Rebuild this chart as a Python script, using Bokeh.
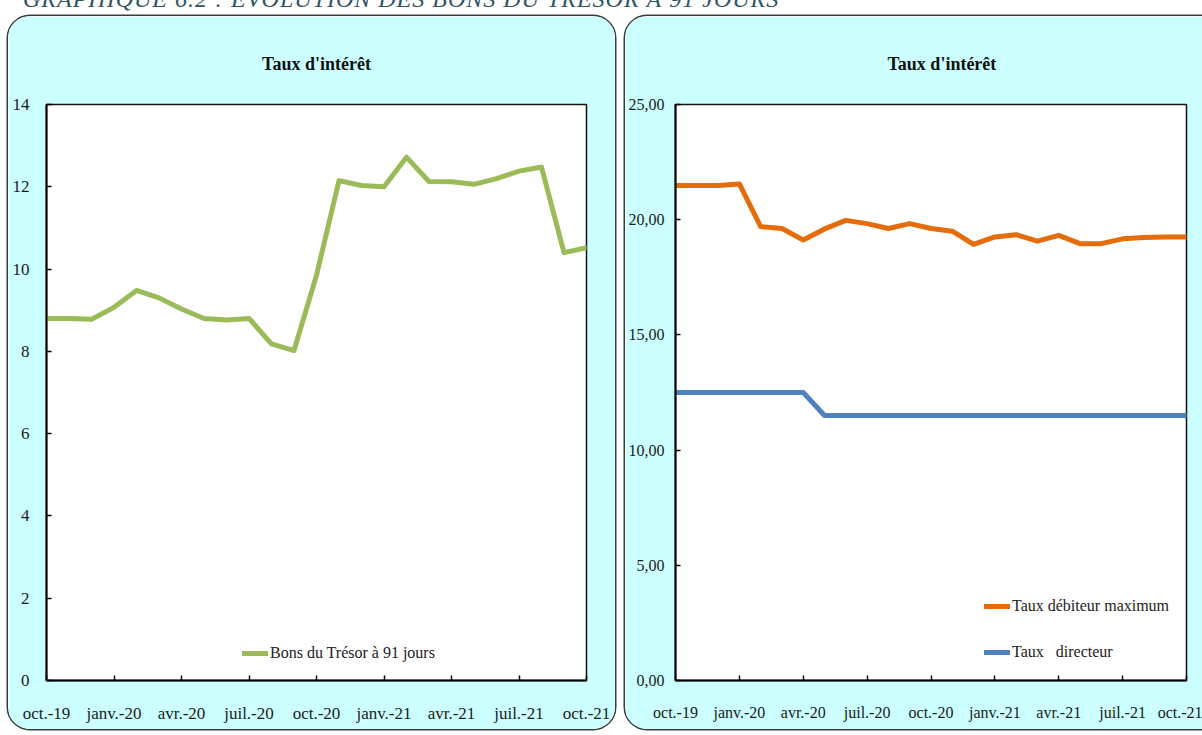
from bokeh.plotting import figure
from bokeh.models import FixedTicker, Legend, LegendItem, Div, Spacer
from bokeh.layouts import row, column
from bokeh.embed import file_html
from bokeh.resources import INLINE

# ---- data -------------------------------------------------------------
# month index: 0 = oct.-19 ... 24 = oct.-21
mois = [0, 1, 2, 3, 4, 5, 6, 7, 8, 9, 10, 11, 12,
        13, 14, 15, 16, 17, 18, 19, 20, 21, 22, 23, 24]

bons_tresor_91j = [8.80, 8.80, 8.78, 9.07, 9.48, 9.30, 9.03, 8.80, 8.76, 8.80, 8.18, 8.02, 9.85,
                   12.15, 12.03, 12.00, 12.72, 12.13, 12.12, 12.06, 12.20, 12.38, 12.48, 10.40, 10.52]

taux_debiteur_max = [21.48, 21.48, 21.48, 21.55, 19.70, 19.62, 19.12, 19.60, 19.97, 19.83, 19.62, 19.83, 19.62,
                     19.50, 18.93, 19.25, 19.35, 19.07, 19.32, 18.96, 18.96, 19.17, 19.23, 19.25, 19.25]

taux_directeur = [12.50, 12.50, 12.50, 12.50, 12.50, 12.50, 12.50, 11.50, 11.50, 11.50, 11.50, 11.50, 11.50,
                  11.50, 11.50, 11.50, 11.50, 11.50, 11.50, 11.50, 11.50, 11.50, 11.50, 11.50, 11.50]

x_ticks = [0, 3, 6, 9, 12, 15, 18, 21, 24]
x_tick_labels = ["oct.-19", "janv.-20", "avr.-20", "juil.-20", "oct.-20",
                 "janv.-21", "avr.-21", "juil.-21", "oct.-21"]

y1_ticks = [0, 2, 4, 6, 8, 10, 12, 14]
y2_ticks = [0, 5, 10, 15, 20, 25]
y2_tick_labels = ["0,00", "5,00", "10,00", "15,00", "20,00", "25,00"]

titre = "Taux d'intérêt"
entete = "GRAPHIQUE 6.2 :  ÉVOLUTION DES BONS DU TRÉSOR À 91 JOURS"

# ---- style --------------------------------------------------------------
FONT = "Liberation Serif"
PANEL = "#CCFFFF"
left_styles = {"border-radius": "22px", "overflow": "hidden",
               "box-shadow": "0 0 0 1.5px #3a3a3a"}
right_styles = {"border-radius": "22px 0 0 22px", "overflow": "hidden",
                "box-shadow": "0 0 0 1.5px #3a3a3a"}


def style_fig(p, ylab_standoff):
    p.xgrid.visible = False
    p.ygrid.visible = False
    p.outline_line_color = "#111111"
    p.outline_line_width = 1.5
    p.title.text = titre
    p.title.align = "center"
    p.title.text_font = FONT
    p.title.text_font_size = "18px"
    p.title.text_font_style = "bold"
    p.title.text_color = "#111111"
    p.title.standoff = 62
    for ax in (p.xaxis[0], p.yaxis[0]):
        ax.axis_line_color = "black"
        ax.axis_line_width = 2
        ax.major_tick_in = 5
        ax.major_tick_out = 0
        ax.major_tick_line_color = "black"
        ax.major_tick_line_width = 1.5
        ax.minor_tick_line_color = None
        ax.major_label_text_font = FONT
        ax.major_label_text_font_size = "17px"
        ax.major_label_text_color = "#1a1a1a"
    p.xaxis[0].ticker = FixedTicker(ticks=x_ticks)
    p.xaxis[0].major_label_overrides = {t: l for t, l in zip(x_ticks, x_tick_labels)}
    p.xaxis[0].major_label_standoff = 23
    p.yaxis[0].major_label_standoff = ylab_standoff


# ---- left panel ----------------------------------------------------------
p1 = figure(width=607, height=713, output_backend="svg", toolbar_location=None,
            x_range=(0, 24), y_range=(0, 14),
            min_border_left=38, min_border_right=29, min_border_top=88, min_border_bottom=49,
            border_fill_color=PANEL, background_fill_color="white", styles=left_styles)
style_fig(p1, 17)
p1.yaxis[0].ticker = FixedTicker(ticks=y1_ticks)

r1 = p1.line(mois, bons_tresor_91j, line_width=5, line_color="#9BBB59",
             line_join="round", line_cap="round")
leg1 = Legend(items=[LegendItem(label="Bons du Trésor à 91 jours", renderers=[r1])],
              location=(196, 17), padding=0, margin=0, glyph_width=26, glyph_height=20,
              label_standoff=2, label_height=20, label_text_font=FONT,
              label_text_font_size="16px", label_text_color="#222222",
              background_fill_alpha=0, border_line_alpha=0)
p1.add_layout(leg1)

# ---- right panel ---------------------------------------------------------
p2 = figure(width=577, height=713, output_backend="svg", toolbar_location=None,
            x_range=(0, 24), y_range=(0, 25),
            min_border_left=48, min_border_right=16, min_border_top=88, min_border_bottom=49,
            border_fill_color=PANEL, background_fill_color="white", styles=right_styles)
style_fig(p2, 11)
p2.yaxis[0].major_label_text_font_size = "16px"
p2.xaxis[0].major_label_text_font_size = "16px"
p2.title.align = "left"
p2.title.offset = 212
p2.yaxis[0].ticker = FixedTicker(ticks=y2_ticks)
p2.yaxis[0].major_label_overrides = {t: l for t, l in zip(y2_ticks, y2_tick_labels)}

r2 = p2.line(mois, taux_debiteur_max, line_width=5, line_color="#E46C0A",
             line_join="round", line_cap="round")
r3 = p2.line(mois, taux_directeur, line_width=5, line_color="#4F81BD",
             line_join="round", line_cap="round")
leg2 = Legend(items=[LegendItem(label="Taux débiteur maximum", renderers=[r2]),
                     LegendItem(label="Taux   directeur", renderers=[r3])],
              location=(309, 18), padding=0, margin=0, spacing=26, glyph_width=26,
              glyph_height=20, label_standoff=2, label_height=20, label_text_font=FONT,
              label_text_font_size="16px", label_text_color="#222222",
              background_fill_alpha=0, border_line_alpha=0)
p2.add_layout(leg2)

# ---- header --------------------------------------------------------------
header = Div(text=(
    "<div style=\"position:relative;top:-23px;left:18px;font-family:'Liberation Serif';"
    "font-style:italic;font-size:24px;color:#2f5464;letter-spacing:1px;"
    "white-space:nowrap;\">" + entete + "</div>"),
    width=900, height=6, styles={"overflow": "visible"})

layout = column(header,
                row(Spacer(width=8, height=10), row(p1, p2, spacing=10), spacing=0),
                spacing=0)

open("out.html", "w").write(file_html(layout, INLINE))
